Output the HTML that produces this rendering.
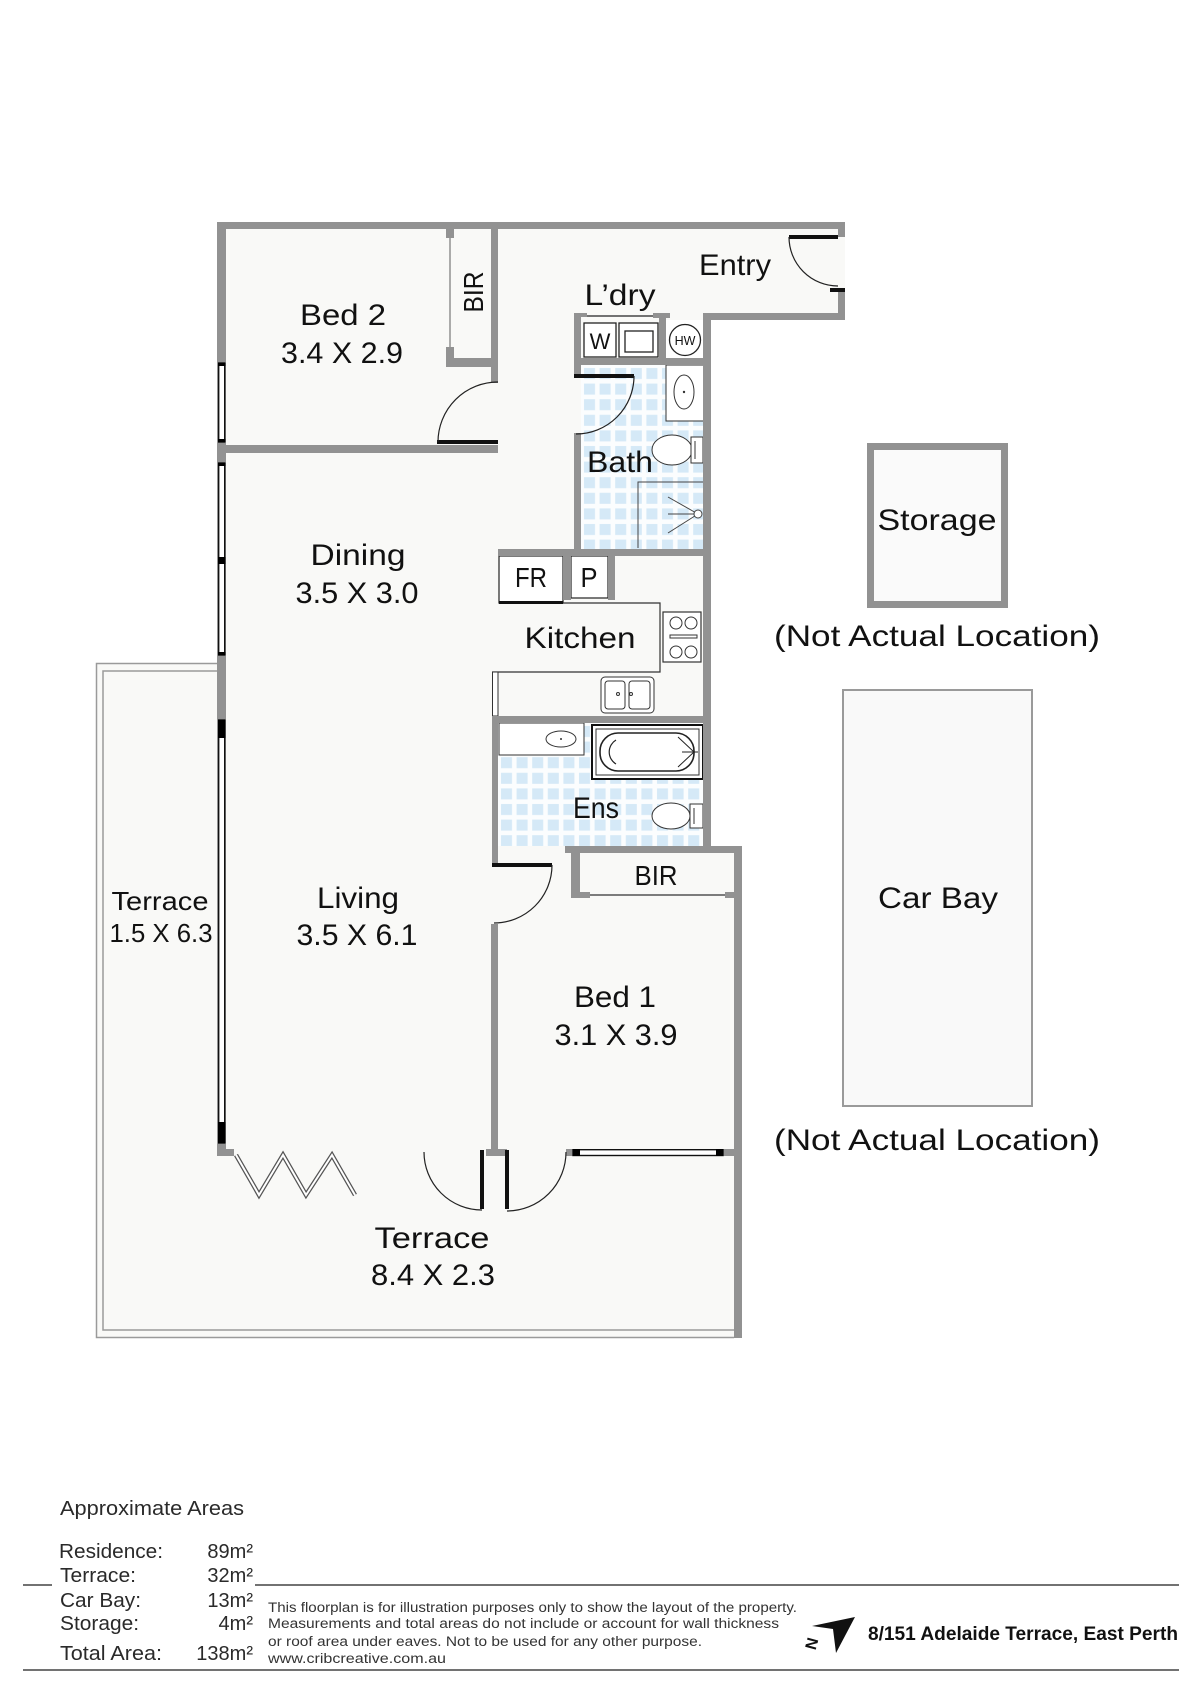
<!DOCTYPE html>
<html>
<head>
<meta charset="utf-8">
<style>
  html,body{margin:0;padding:0;background:#fff;}
  svg{display:block;}
</style>
</head>
<body>
<svg width="1200" height="1696" viewBox="0 0 1200 1696" xmlns="http://www.w3.org/2000/svg" font-family="'Liberation Sans', 'DejaVu Sans', sans-serif">
  <defs>
    <pattern id="t1" x="582" y="366" width="15.6" height="15.6" patternUnits="userSpaceOnUse">
      <rect width="15.6" height="15.6" fill="#fbfdfe"/>
      <rect x="2" y="2" width="11" height="11" fill="#d5e9f7"/>
    </pattern>
    <pattern id="t2" x="499" y="724" width="15.6" height="15.6" patternUnits="userSpaceOnUse">
      <rect width="15.6" height="15.6" fill="#fbfdfe"/>
      <rect x="2" y="2" width="11" height="11" fill="#d5e9f7"/>
    </pattern>
  </defs>

  <rect width="1200" height="1696" fill="#fff"/>

  <!-- Terrace -->
  <polygon points="96,663 217,663 217,1149 734,1149 734,1338 96,1338" fill="#f9f9f7"/>
  <g fill="none" stroke="#9a9a9a" stroke-width="1.5">
    <path d="M217,663.5 H96.5 V1337.5 H734"/>
    <path d="M217,671 H103 V1330 H734"/>
  </g>

  <!-- Floor -->
  <polygon points="217,222 845,222 845,320 711,320 711,853 742,853 742,1156 217,1156" fill="#f9f9f7"/>

  <!-- Tiles -->
  <rect x="581" y="365" width="123" height="184" fill="url(#t1)"/>
  <rect x="498" y="723" width="205" height="123" fill="url(#t2)"/>

  <!-- Laundry fixtures -->
  <line x1="587" y1="316" x2="653" y2="316" stroke="#222" stroke-width="1.2"/>
  <rect x="584" y="323" width="32" height="34" fill="#fff" stroke="#222" stroke-width="1.3"/>
  <text x="600" y="349" font-size="22" text-anchor="middle" fill="#111">W</text>
  <rect x="619" y="323" width="39" height="34" fill="#fff" stroke="#222" stroke-width="1.3"/>
  <rect x="625" y="331" width="28" height="21" fill="none" stroke="#222" stroke-width="1.3"/>
  <rect x="666" y="320" width="37" height="38" fill="#fff"/>
  <circle cx="685" cy="340" r="15.5" fill="#fff" stroke="#222" stroke-width="1.3"/>
  <text x="685" y="345" font-size="12.5" text-anchor="middle" fill="#111">HW</text>

  <!-- Bath fixtures -->
  <rect x="666" y="365" width="38" height="56" fill="#fff" stroke="#333" stroke-width="1"/>
  <ellipse cx="684" cy="392" rx="10" ry="17" fill="none" stroke="#333" stroke-width="1"/>
  <circle cx="684" cy="392" r="1.2" fill="#333"/>
  <ellipse cx="672" cy="450" rx="20" ry="15" fill="#fff" stroke="#333" stroke-width="1"/>
  <rect x="691" y="437" width="12" height="26" fill="#fff" stroke="#333" stroke-width="1"/>
  <line x1="695" y1="441" x2="695" y2="459" stroke="#333" stroke-width="1"/>
  <g stroke="#444" stroke-width="1" fill="none">
    <path d="M638,548 V482 H704"/>
    <line x1="698" y1="514" x2="668" y2="497"/>
    <line x1="698" y1="514" x2="668" y2="514"/>
    <line x1="698" y1="514" x2="668" y2="533"/>
  </g>
  <circle cx="698" cy="514" r="4" fill="#fff" stroke="#444" stroke-width="1"/>

  <!-- Kitchen fixtures -->
  <rect x="499" y="556" width="64" height="47" fill="#fff" stroke="#222" stroke-width="1.2"/>
  <rect x="499" y="601" width="64" height="3" fill="#111"/>
  <rect x="571" y="556" width="37" height="42" fill="#fff" stroke="#222" stroke-width="1.2"/>
  <path d="M563,603 H660 V672 H492" fill="none" stroke="#333" stroke-width="1.2"/>
  <rect x="492.5" y="672" width="5.5" height="44" fill="#fff" stroke="#333" stroke-width="1"/>
  <rect x="663" y="612" width="38" height="50" fill="#fff" stroke="#333" stroke-width="1.2"/>
  <g fill="none" stroke="#333" stroke-width="1">
    <circle cx="676" cy="623" r="6"/>
    <circle cx="691" cy="623" r="6"/>
    <circle cx="676" cy="652" r="6"/>
    <circle cx="691" cy="652" r="6"/>
    <rect x="670" y="635" width="27" height="3"/>
  </g>
  <rect x="601" y="677" width="53" height="36" rx="4" fill="#fff" stroke="#333" stroke-width="1"/>
  <rect x="605" y="681" width="20" height="28" rx="3" fill="none" stroke="#333" stroke-width="1"/>
  <rect x="629" y="681" width="21" height="28" rx="3" fill="none" stroke="#333" stroke-width="1"/>
  <circle cx="618" cy="694" r="1.5" fill="none" stroke="#333"/>
  <circle cx="631" cy="694" r="1.5" fill="none" stroke="#333"/>

  <!-- Ens fixtures -->
  <rect x="499" y="723" width="85" height="32" fill="#fff" stroke="#333" stroke-width="1"/>
  <ellipse cx="561" cy="739" rx="15" ry="8" fill="none" stroke="#333" stroke-width="1"/>
  <circle cx="561" cy="739" r="1" fill="#333"/>
  <rect x="592" y="725" width="111" height="54" fill="#fff" stroke="#111" stroke-width="2"/>
  <rect x="596" y="729" width="103" height="46" fill="none" stroke="#333" stroke-width="1"/>
  <rect x="600" y="733" width="94" height="38" rx="18" fill="none" stroke="#222" stroke-width="1.6"/>
  <path d="M616,740 A14,14 0 0,0 616,764" fill="none" stroke="#222" stroke-width="1.2"/>
  <path d="M678,737 L694,752 L678,767 M682,752 H698" fill="none" stroke="#222" stroke-width="1"/>
  <ellipse cx="671" cy="816" rx="19" ry="13" fill="#fff" stroke="#333" stroke-width="1"/>
  <rect x="690" y="804" width="13" height="24" fill="#fff" stroke="#333" stroke-width="1"/>
  <line x1="694" y1="808" x2="694" y2="824" stroke="#333" stroke-width="1"/>

  <!-- Walls -->
  <g fill="#929292">
    <rect x="217" y="222" width="628" height="7"/>
    <rect x="217" y="222" width="9" height="934"/>
    <rect x="838" y="222" width="7" height="15"/>
    <rect x="838" y="290" width="7" height="30"/>
    <rect x="703" y="313" width="142" height="7"/>
    <rect x="491" y="229" width="7" height="154"/>
    <rect x="446" y="358" width="52" height="9"/>
    <rect x="446" y="229" width="8" height="9"/>
    <rect x="446" y="347" width="8" height="12"/>
    <rect x="226" y="445" width="272" height="8"/>
    <rect x="574" y="313" width="7" height="63"/>
    <rect x="574" y="433" width="7" height="123"/>
    <rect x="574" y="313" width="13" height="4"/>
    <rect x="653" y="313" width="17" height="5"/>
    <rect x="659" y="313" width="7" height="52"/>
    <rect x="574" y="358" width="137" height="7"/>
    <rect x="703" y="313" width="8" height="540"/>
    <rect x="498" y="549" width="213" height="7"/>
    <rect x="563" y="556" width="8" height="44"/>
    <rect x="608" y="556" width="7" height="44"/>
    <rect x="492" y="716" width="219" height="7"/>
    <rect x="492" y="716" width="6" height="151"/>
    <rect x="565" y="846" width="177" height="7"/>
    <rect x="571" y="846" width="9" height="52"/>
    <rect x="571" y="892" width="19" height="6"/>
    <rect x="725" y="892" width="10" height="6"/>
    <rect x="734" y="846" width="8" height="492"/>
    <rect x="491" y="924" width="7" height="232"/>
    <rect x="217" y="1149" width="17" height="7"/>
    <rect x="486" y="1149" width="21" height="7"/>
    <rect x="566" y="1149" width="176" height="7"/>
  </g>
  <line x1="450" y1="238" x2="450" y2="347" stroke="#777" stroke-width="1.2"/>
  <line x1="590" y1="895" x2="725" y2="895" stroke="#333" stroke-width="1.2"/>

  <!-- Windows -->
  <g fill="#fff" stroke="#111" stroke-width="1.4">
    <rect x="218.7" y="363" width="6" height="79"/>
    <rect x="218.7" y="463" width="6" height="192"/>
    <rect x="218.7" y="720" width="6" height="423"/>
    <rect x="573" y="1149.7" width="150" height="5.8"/>
  </g>
  <g fill="#000">
    <rect x="218" y="363" width="7.5" height="3"/>
    <rect x="218" y="439" width="7.5" height="3"/>
    <rect x="218" y="463" width="7.5" height="3"/>
    <rect x="218" y="557" width="7.5" height="7"/>
    <rect x="218" y="652" width="7.5" height="3"/>
    <rect x="218" y="720" width="7.5" height="18"/>
    <rect x="218" y="1122" width="7.5" height="21"/>
    <rect x="573" y="1149" width="7" height="7"/>
    <rect x="716" y="1149" width="7" height="7"/>
  </g>

  <!-- Doors -->
  <g fill="#111">
    <rect x="789" y="235" width="49" height="4"/>
    <rect x="830" y="288" width="15" height="4"/>
    <rect x="437" y="440" width="61" height="4"/>
    <rect x="574" y="374" width="60" height="4"/>
    <rect x="492" y="863" width="60" height="4"/>
    <rect x="480" y="1150" width="4" height="59"/>
    <rect x="505" y="1150" width="4" height="59"/>
  </g>
  <g fill="none" stroke="#222" stroke-width="1.2">
    <path d="M789,237 A49,49 0 0,0 838,286"/>
    <path d="M438,442 A60,60 0 0,1 498,382"/>
    <path d="M634,376 A58,58 0 0,1 576,434"/>
    <path d="M552,865 A58,58 0 0,1 494,923"/>
    <path d="M424,1152 A58,58 0 0,0 482,1210"/>
    <path d="M507,1211 A59,59 0 0,0 566,1152"/>
  </g>

  <!-- Bi-fold door -->
  <polyline points="236,1155 259,1195 283,1155 306,1195 332,1155 355,1195" fill="none" stroke="#555" stroke-width="4.5"/>
  <polyline points="236,1155 259,1195 283,1155 306,1195 332,1155 355,1195" fill="none" stroke="#fff" stroke-width="2"/>

  <!-- Storage / Car Bay -->
  <rect x="870.5" y="446.5" width="134" height="158" fill="#fafafa" stroke="#929292" stroke-width="7"/>
  <rect x="843" y="690" width="189" height="416" fill="#f9f9f9" stroke="#9a9a9a" stroke-width="2"/>

  <!-- Room labels -->
  <g fill="#111" font-size="30" text-anchor="middle">
    <text x="343" y="325" textLength="86" lengthAdjust="spacingAndGlyphs">Bed 2</text>
    <text x="342" y="363" textLength="122" lengthAdjust="spacingAndGlyphs">3.4 X 2.9</text>
    <text x="620" y="305" textLength="71" lengthAdjust="spacingAndGlyphs">L’dry</text>
    <text x="735" y="275" textLength="72" lengthAdjust="spacingAndGlyphs">Entry</text>
    <text x="620" y="472" textLength="66" lengthAdjust="spacingAndGlyphs">Bath</text>
    <text x="937" y="530" textLength="119" lengthAdjust="spacingAndGlyphs">Storage</text>
    <text x="358" y="565" textLength="95" lengthAdjust="spacingAndGlyphs">Dining</text>
    <text x="357" y="603" textLength="123" lengthAdjust="spacingAndGlyphs">3.5 X 3.0</text>
    <text x="531" y="587" font-size="28" textLength="32" lengthAdjust="spacingAndGlyphs">FR</text>
    <text x="589" y="587" font-size="28" textLength="17" lengthAdjust="spacingAndGlyphs">P</text>
    <text x="580" y="648" textLength="111" lengthAdjust="spacingAndGlyphs">Kitchen</text>
    <text x="937" y="646" textLength="326" lengthAdjust="spacingAndGlyphs">(Not Actual Location)</text>
    <text x="596" y="818" textLength="46" lengthAdjust="spacingAndGlyphs">Ens</text>
    <text x="656" y="885" font-size="28" textLength="43" lengthAdjust="spacingAndGlyphs">BIR</text>
    <text x="160" y="910" font-size="26" textLength="97" lengthAdjust="spacingAndGlyphs">Terrace</text>
    <text x="161" y="942" font-size="26" textLength="103" lengthAdjust="spacingAndGlyphs">1.5 X 6.3</text>
    <text x="358" y="908" textLength="82" lengthAdjust="spacingAndGlyphs">Living</text>
    <text x="357" y="945" textLength="121" lengthAdjust="spacingAndGlyphs">3.5 X 6.1</text>
    <text x="938" y="908" textLength="120" lengthAdjust="spacingAndGlyphs">Car Bay</text>
    <text x="615" y="1007" textLength="82" lengthAdjust="spacingAndGlyphs">Bed 1</text>
    <text x="616" y="1045" textLength="123" lengthAdjust="spacingAndGlyphs">3.1 X 3.9</text>
    <text x="937" y="1150" textLength="326" lengthAdjust="spacingAndGlyphs">(Not Actual Location)</text>
    <text x="432" y="1248" textLength="115" lengthAdjust="spacingAndGlyphs">Terrace</text>
    <text x="433" y="1285" textLength="124" lengthAdjust="spacingAndGlyphs">8.4 X 2.3</text>
  </g>
  <text transform="translate(483,292) rotate(-90)" x="0" y="0" font-size="28" fill="#111" text-anchor="middle" textLength="41" lengthAdjust="spacingAndGlyphs">BIR</text>

  <!-- Footer -->
  <g fill="#2a2a2a">
    <text x="60" y="1515" font-size="20" textLength="184" lengthAdjust="spacingAndGlyphs">Approximate Areas</text>
    <text x="59" y="1558" font-size="20" textLength="104" lengthAdjust="spacingAndGlyphs">Residence:</text>
    <text x="60" y="1582" font-size="20" textLength="76" lengthAdjust="spacingAndGlyphs">Terrace:</text>
    <text x="60" y="1607" font-size="20" textLength="81" lengthAdjust="spacingAndGlyphs">Car Bay:</text>
    <text x="60" y="1630" font-size="20" textLength="79" lengthAdjust="spacingAndGlyphs">Storage:</text>
    <text x="60" y="1660" font-size="20" textLength="102" lengthAdjust="spacingAndGlyphs">Total Area:</text>
    <g font-size="20" text-anchor="end">
      <text x="253" y="1558">89m²</text>
      <text x="253" y="1582">32m²</text>
      <text x="253" y="1607">13m²</text>
      <text x="253" y="1630">4m²</text>
      <text x="253" y="1660">138m²</text>
    </g>
    <g font-size="13.5" fill="#333">
      <text x="268" y="1612" textLength="529" lengthAdjust="spacingAndGlyphs">This floorplan is for illustration purposes only to show the layout of the property.</text>
      <text x="268" y="1628" textLength="511" lengthAdjust="spacingAndGlyphs">Measurements and total areas do not include or account for wall thickness</text>
      <text x="268" y="1646" textLength="434" lengthAdjust="spacingAndGlyphs">or roof area under eaves. Not to be used for any other purpose.</text>
      <text x="268" y="1663" textLength="178" lengthAdjust="spacingAndGlyphs">www.cribcreative.com.au</text>
    </g>
    <text x="868" y="1640" font-size="19" font-weight="bold" fill="#111" textLength="310" lengthAdjust="spacingAndGlyphs">8/151 Adelaide Terrace, East Perth</text>
  </g>
  <g stroke="#444" stroke-width="1.5">
    <line x1="23" y1="1585" x2="52" y2="1585"/>
    <line x1="255" y1="1585" x2="1179" y2="1585"/>
    <line x1="23" y1="1670" x2="1179" y2="1670"/>
  </g>

  <!-- North arrow -->
  <polygon points="855,1617 812,1626 833,1629 836,1653" fill="#111"/>
  <text transform="translate(817,1645) rotate(-75)" font-size="16" font-weight="bold" fill="#111" text-anchor="middle">N</text>
</svg>
</body>
</html>
